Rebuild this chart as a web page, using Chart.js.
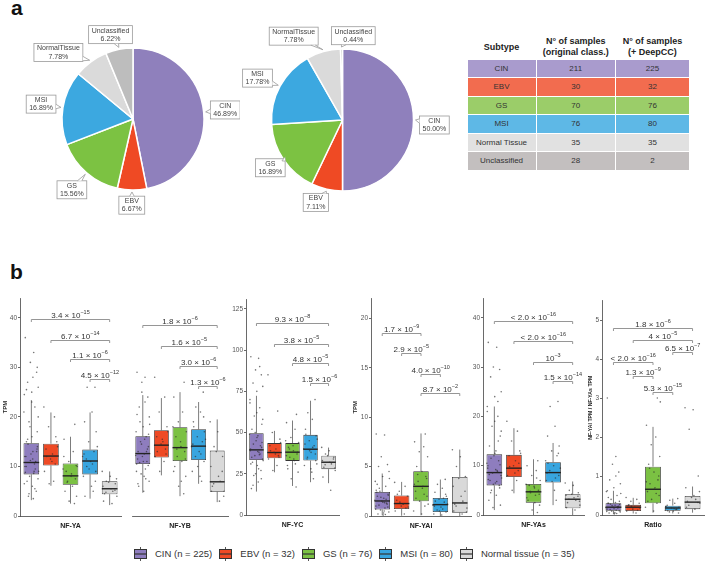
<!DOCTYPE html>
<html>
<head>
<meta charset="utf-8">
<script src="https://cdn.jsdelivr.net/npm/chart.js@4.4.1/dist/chart.umd.min.js"></script>
<style>
  html, body { margin: 0; padding: 0; background: #fff; }
  body { width: 708px; height: 564px; position: relative; overflow: hidden; font-family: "Liberation Sans", Arial, sans-serif; }
  canvas.abs { position: absolute; }
  .tag { position: absolute; font-weight: bold; font-size: 21px; line-height: 21px; color: #111; }
  #tbl { position: absolute; left: 466.5px; top: 34.5px; border-collapse: separate; border-spacing: 1.5px; color: #333; table-layout: fixed; }
  #tbl th { font-size: 9px; font-weight: bold; height: 23px; line-height: 11px; padding: 0; text-align: center; vertical-align: middle; color: #222; }
  #tbl td { font-size: 8px; height: 17.5px; padding: 0; text-align: center; vertical-align: middle; }
  #legend { position: absolute; left: 134px; top: 546.5px; height: 14px; display: flex; align-items: center; font-size: 9.5px; color: #333; white-space: nowrap; }
  .li { display: flex; align-items: center; margin-right: 7px; }
  .li canvas { margin-right: 8px; }
</style>
</head>
<body>
<div class="tag" style="left:11px;top:-3.5px">a</div>
<div class="tag" style="left:10px;top:260.5px">b</div>
<table id="tbl"></table>
<div id="legend"></div>
<script>
const FONT = '"Liberation Sans", Arial, sans-serif';
Chart.defaults.font.family = FONT;

// ---- panel a data ----
const SUBTYPES = ['CIN', 'EBV', 'GS', 'MSI', 'Normal Tissue', 'Unclassified'];
const PIE_LABELS = ['CIN', 'EBV', 'GS', 'MSI', 'NormalTissue', 'Unclassified'];
const N_ORIGINAL = [211, 30, 70, 76, 35, 28];
const N_DEEPCC = [225, 32, 76, 80, 35, 2];

// ---- panel b data ----
const GROUPS = ['CIN', 'EBV', 'GS', 'MSI', 'Normal tissue'];
// [lower whisker, q1, median, q3, upper whisker]
const NFYA_STATS = [[3.2, 8.4, 10.8, 14.7, 23.4], [6.1, 10.2, 12.1, 14.6, 20.9], [2.5, 6.3, 8.1, 10.6, 16.0], [3.5, 8.4, 11.1, 13.4, 20.9], [2.2, 4.4, 5.5, 7.0, 9.0]];
const NFYB_STATS = [[4.7, 10.5, 12.6, 16.1, 24.4], [8.2, 11.8, 14.3, 17.3, 23.8], [4.0, 11.1, 13.8, 17.9, 25.0], [6.5, 11.3, 14.1, 17.5, 23.0], [2.8, 4.9, 6.9, 13.2, 19.5]];
const NFYC_STATS = [[14.2, 33.4, 39.5, 49.6, 72.3], [25.9, 34.4, 37.9, 43.6, 51.0], [17.6, 32.8, 38.1, 43.6, 57.3], [19.9, 33.0, 39.9, 48.6, 69.3], [19.3, 27.8, 32.0, 36.0, 40.9]];
const NFYAL_STATS = [[0.07, 0.65, 1.52, 2.43, 4.3], [0.03, 0.71, 1.26, 2.07, 3.45], [0.07, 1.49, 3.0, 4.53, 8.35], [0, 0.41, 1.15, 1.83, 3.69], [0, 0.34, 1.32, 3.95, 6.72]];
const NFYAS_STATS = [[1.0, 6.0, 8.6, 12.3, 22.0], [4.4, 7.7, 9.5, 12.2, 17.6], [0, 2.5, 4.7, 6.3, 11.3], [2.0, 6.6, 8.6, 10.7, 14.6], [0, 1.35, 3.2, 4.2, 6.8]];
const RATIO_STATS = [[0.02, 0.11, 0.20, 0.30, 0.62], [0.04, 0.10, 0.20, 0.26, 0.44], [0.06, 0.30, 0.66, 1.24, 2.26], [0.04, 0.11, 0.18, 0.24, 0.42], [0.06, 0.15, 0.33, 0.49, 0.73]];

// individual samples (a readable subset)
const NFYA_PTS = [
  [36, 33, 31, 29, 27, 26, 25, 24.5, 22, 19, 17, 15, 13, 12.5, 11, 10, 9, 8, 7.5, 7, 6, 5, 4, 3.5, 12, 14, 18, 9.5, 21, 16,
   14.5, 13.5, 12, 11.5, 10.5, 10, 9, 8.8, 8.6, 11.2, 13, 15.5, 20, 23, 6.5, 5.5, 4.5, 30, 25.5, 28],
  [22, 20, 18, 15, 13.5, 12.5, 11.5, 10.5, 9, 7, 6.5, 14, 12, 11, 16],
  [18.5, 15.5, 13, 11, 10, 9, 8.5, 7.5, 7, 6, 5, 4, 3, 2.5, 9.5, 8, 6.8, 10.2, 12],
  [26, 26, 21, 19, 17, 15, 13, 12, 11, 10, 9, 8, 6, 5, 4, 14, 12.5, 10.5, 9.5, 7, 11.5],
  [9, 8, 7, 6.5, 6, 5.5, 5, 4.5, 4, 3, 2.5, 6.8, 5.2, 4.8, 7.5]];
const NFYB_PTS = [
  [29, 28, 27, 24, 22, 20, 18, 17, 16, 15, 14, 13, 12.5, 12, 11, 10.5, 9.5, 8.5, 7, 6, 5, 13.5, 19, 15.5, 11.5,
   16.5, 14.5, 13, 12.2, 11, 10.8, 10.2, 9, 8, 7.5, 6.5, 18.5, 20.5, 23, 25],
  [28, 24, 21, 18, 16, 15, 14.5, 13.5, 12, 11, 9, 17, 13, 15.5, 12.5],
  [27, 24, 21, 19, 17, 16, 14, 13, 12, 11, 10, 8, 6, 4.5, 18, 15, 13.5, 11.5, 9, 7],
  [25, 22, 21, 19, 17, 16, 15, 14, 13, 12, 11, 9, 8, 7, 18, 15.5, 14.5, 12.5, 10, 20],
  [19, 17, 14, 12, 10, 8, 7, 6, 5, 5, 3, 13, 9, 6.5, 4]];
const NFYC_PTS = [
  [96, 95, 88, 85, 80, 78, 75, 70, 65, 60, 55, 52, 48, 45, 42, 40, 38, 36, 34, 32, 30, 27, 24, 20, 16, 44, 50, 37,
   49, 47, 43, 41, 39, 38.5, 36.5, 35, 33, 31, 28, 25, 22, 18, 58, 62, 68, 90],
  [85, 63, 50, 46, 42, 40, 38, 36, 34, 30, 27, 44, 39, 37, 35],
  [61, 56, 52, 47, 44, 41, 39, 37, 35, 33, 30, 26, 22, 17, 45, 42, 40, 38, 36, 34, 31, 28],
  [70, 62, 58, 52, 48, 45, 42, 40, 38, 35, 33, 30, 26, 22, 49, 46, 43, 41, 39, 37, 34, 31, 28],
  [41, 39, 37, 35, 33, 32, 31, 29, 27, 23, 15, 36, 34, 30.5, 28.5]];
const NFYAL_PTS = [
  [8.3, 8.2, 6, 5.2, 5, 4.5, 4, 3.5, 3, 2.5, 2.2, 2, 1.8, 1.5, 1.3, 1, 0.8, 0.6, 0.4, 0.2, 0.1, 1.2, 2.8, 0.5,
   2.4, 2.1, 1.9, 1.7, 1.6, 1.4, 1.1, 0.9, 0.7, 0.3, 0.15, 3.2, 3.8, 2.6, 1.35],
  [3.4, 3, 2.5, 2, 1.6, 1.2, 1, 0.8, 0.5, 0.2, 1.4, 0.9, 2.2],
  [8.3, 7.5, 7, 6.5, 6, 5, 4.5, 4, 3.5, 3, 2.5, 2, 1.5, 1, 0.5, 0.2, 4.2, 3.8, 3.2, 2.8, 2.2, 1.8, 1.2],
  [3.7, 3.2, 2.8, 2.4, 2, 1.7, 1.4, 1.1, 0.9, 0.6, 0.4, 0.2, 0.1, 1.8, 1.5, 1.2, 1.0, 0.7, 0.5, 2.2],
  [6.7, 6, 5, 4, 3, 2, 1.5, 1.2, 0.8, 0.5, 0.2, 3.8, 2.5, 1.0, 0.4]];
const NFYAS_PTS = [
  [35, 34, 30, 29.5, 28, 25, 24, 22, 20, 18, 16, 14, 13, 12, 11, 10, 9, 8.5, 8, 7, 6.5, 6, 5, 4, 3, 2, 1.5, 15, 10.5,
   12.5, 11.5, 10.2, 9.5, 9.2, 8.8, 8.2, 7.5, 7.2, 6.8, 6.2, 5.5, 4.5, 17, 19, 21, 23],
  [19, 17, 15, 13, 12, 11, 10, 9, 8, 7, 5, 12.5, 9.8, 8.5, 10.5],
  [11, 10, 9, 8, 7, 6, 5.5, 5, 4.5, 4, 3, 2, 1, 0.5, 6.2, 5.8, 4.8, 4.2, 3.5, 2.5, 7.5],
  [23, 22, 18, 16, 14, 13, 12, 11, 10, 9, 8, 7, 5, 3, 10.5, 9.5, 8.5, 7.5, 6.8, 12.5],
  [6.5, 6, 5, 4.5, 4, 3.5, 3, 2.5, 2, 1.5, 1, 4.2, 3.8, 3.2, 2.8]];
const RATIO_PTS = [
  [3.0, 1.5, 1.3, 1.1, 0.9, 0.8, 0.7, 0.6, 0.5, 0.4, 0.35, 0.3, 0.25, 0.2, 0.18, 0.15, 0.12, 0.1, 0.08, 0.05, 0.03, 0.22, 0.28,
   0.32, 0.3, 0.27, 0.24, 0.21, 0.19, 0.16, 0.14, 0.11, 0.09, 0.06, 0.04, 0.45, 0.55, 0.62, 1.0],
  [0.45, 0.4, 0.35, 0.3, 0.25, 0.2, 0.15, 0.12, 0.1, 0.05, 0.22, 0.18, 0.26],
  [3.0, 2.3, 2.0, 1.8, 1.5, 1.3, 1.1, 0.9, 0.8, 0.7, 0.6, 0.5, 0.4, 0.3, 0.2, 0.1, 1.2, 1.0, 0.85, 0.66, 0.55, 0.35, 2.9],
  [0.42, 0.38, 0.3, 0.25, 0.2, 0.18, 0.15, 0.12, 0.1, 0.08, 0.05, 0.22, 0.16, 0.14, 0.11],
  [2.75, 2.7, 2.2, 1.0, 0.7, 0.5, 0.4, 0.35, 0.3, 0.2, 0.15, 0.45, 0.32, 0.25, 0.6]];

// comparisons: [group a, group b, bracket height, p-value]
const NFYA_PV = [[0, 4, 39.8, '3.4 × 10^−15'], [1, 4, 35.6, '6.7 × 10^−14'], [2, 4, 31.6, '1.1 × 10^−6'], [3, 4, 27.7, '4.5 × 10^−12']];
const NFYB_PV = [[0, 4, 38.5, '1.8 × 10^−6'], [1, 4, 34.3, '1.6 × 10^−5'], [2, 4, 30.2, '3.0 × 10^−6'], [3, 4, 26.2, '1.3 × 10^−6']];
const NFYC_PV = [[0, 4, 116.2, '9.3 × 10^−8'], [1, 4, 104, '3.8 × 10^−5'], [2, 4, 92, '4.8 × 10^−5'], [3, 4, 79.8, '1.5 × 10^−6']];
const NFYAL_PV = [[0, 2, 18.5, '1.7 × 10^−9'], [1, 2, 16.45, '2.9 × 10^−5'], [2, 3, 14.35, '4.0 × 10^−10'], [2, 4, 12.4, '8.7 × 10^−2']];
const NFYAS_PV = [[0, 4, 39.3, '< 2.0 × 10^−16'], [1, 4, 35.2, '< 2.0 × 10^−16'], [2, 4, 31.1, '10^−3'], [3, 4, 27.1, '1.5 × 10^−14']];
const RATIO_PV = [[0, 4, 4.8, '1.8 × 10^−6'], [1, 4, 4.49, '4 × 10^−5'], [3, 4, 4.19, '6.5 × 10^−7'], [0, 2, 3.93, '< 2.0 × 10^−16'], [1, 2, 3.56, '1.3 × 10^−9'], [2, 3, 3.15, '5.3 × 10^−15']];

const TPM_TICKS_40 = [0, 10, 20, 30, 40];
const NFYC_TICKS = [0, 25, 50, 75, 100, 125];
const NFYAL_TICKS = [0, 5, 10, 15, 20];
const RATIO_TICKS = [0, 1, 2, 3, 4, 5];

// ---- styles ----
const PIE_COLORS = ['#8f80bc', '#ef4a24', '#7cc242', '#3ca8e0', '#dadada', '#bdbdbd'];
const TABLE_COLORS = ['#a99bcd', '#f26c4f', '#9bcd69', '#5eb8e6', '#e1e1e1', '#c3bfbf'];
const BOX_COLORS = ['#8e7dbe', '#ee4a25', '#7bc143', '#38a5df', '#d9d9d9'];
const JIT = [-0.31, 0.12, -0.05, 0.27, -0.19, 0.35, 0.02, -0.36, 0.18, -0.12, 0.3, -0.25, 0.08, -0.02, 0.22,
             -0.33, 0.14, -0.09, 0.34, -0.22, 0.05, 0.25, -0.15, 0.1, -0.28, 0.31, -0.07, 0.2, -0.38, 0.03,
             -0.17, 0.29, -0.34, 0.07, 0.16, -0.26, 0.37];

// ---- pies ----
const calloutPlugin = {
  id: 'callout',
  afterDatasetsDraw(chart) {
    const ctx = chart.ctx;
    const meta = chart.getDatasetMeta(0);
    const vals = chart.data.datasets[0].data;
    const total = vals.reduce((a, b) => a + b, 0);
    const nudge = chart.$nudge || {};
    ctx.save();
    ctx.font = '7px ' + FONT;
    meta.data.forEach((arc, i) => {
      const p = arc.getProps(['x', 'y', 'startAngle', 'endAngle', 'outerRadius'], true);
      const mid = (p.startAngle + p.endAngle) / 2;
      const dx = Math.cos(mid), dy = Math.sin(mid);
      const l1 = chart.data.labels[i];
      const l2 = (vals[i] / total * 100).toFixed(2) + '%';
      const w = Math.max(ctx.measureText(l1).width, ctx.measureText(l2).width) + 6;
      const h = 18;
      const sup = Math.abs(dx) * w / 2 + Math.abs(dy) * h / 2;
      const nd = nudge[i] || [0, 0];
      const dist = p.outerRadius + 6 + sup;
      const cx = p.x + dx * dist + nd[0], cy = p.y + dy * dist + nd[1];
      const tx = p.x + dx * (p.outerRadius + 2), ty = p.y + dy * (p.outerRadius + 2);
      // box
      ctx.fillStyle = '#fff';
      ctx.strokeStyle = '#9a9a9a';
      ctx.lineWidth = 0.8;
      ctx.fillRect(cx - w / 2, cy - h / 2, w, h);
      ctx.strokeRect(cx - w / 2, cy - h / 2, w, h);
      // tail
      const vx = tx - cx, vy = ty - cy;
      const t = Math.min((w / 2) / Math.max(Math.abs(vx), 1e-6), (h / 2) / Math.max(Math.abs(vy), 1e-6));
      const bx = cx + vx * t, by = cy + vy * t;
      const vertSide = (w / 2) / Math.max(Math.abs(vx), 1e-6) < (h / 2) / Math.max(Math.abs(vy), 1e-6);
      const ox = vertSide ? 0 : 2.2, oy = vertSide ? 2.2 : 0;
      ctx.beginPath();
      ctx.moveTo(bx - ox, by - oy); ctx.lineTo(tx, ty); ctx.lineTo(bx + ox, by + oy);
      ctx.fill();
      ctx.stroke();
      ctx.fillStyle = '#444';
      ctx.textAlign = 'center';
      ctx.textBaseline = 'middle';
      ctx.fillText(l1, cx, cy - 4);
      ctx.fillText(l2, cx, cy + 4.3);
    });
    ctx.restore();
  }
};

function makePie(left, pad, counts, nudge) {
  const cv = document.createElement('canvas');
  cv.className = 'abs';
  cv.width = 240; cv.height = 225;
  cv.style.left = left + 'px'; cv.style.top = '0px';
  document.body.appendChild(cv);
  const ch = new Chart(cv, {
    type: 'pie',
    data: {
      labels: PIE_LABELS,
      datasets: [{ data: counts, backgroundColor: PIE_COLORS, borderColor: '#fff', borderWidth: 1.5, hoverOffset: 0, radius: 71 }]
    },
    options: {
      responsive: false, animation: false, devicePixelRatio: 1, events: [],
      layout: { padding: pad },
      plugins: { legend: { display: false }, tooltip: { enabled: false } }
    },
    plugins: [calloutPlugin]
  });
  ch.$nudge = nudge;
  ch.draw();
}

makePie(0, { left: 62, right: 36, top: 48, bottom: 35 }, N_ORIGINAL, { 4: [-16, 13], 5: [-5, 4] });
makePie(230, { left: 41, right: 56, top: 48.5, bottom: 33.5 }, N_DEEPCC,
  { 0: [0, 5], 1: [-7, -4], 2: [6, -5], 3: [-2, 3], 4: [-24, 5], 5: [12, 2] });

// ---- table ----
(function () {
  let html = '<tr><th style="width:68px">Subtype</th><th style="width:78.5px">N° of samples<br>(original class.)</th><th style="width:73px">N° of samples<br>(+ DeepCC)</th></tr>';
  SUBTYPES.forEach((s, i) => {
    const bg = `background:${TABLE_COLORS[i]}`;
    html += `<tr><td style="${bg}">${s}</td><td style="${bg}">${N_ORIGINAL[i]}</td><td style="${bg}">${N_DEEPCC[i]}</td></tr>`;
  });
  document.getElementById('tbl').innerHTML = html;
})();

// ---- box plots ----
function makePanel(p) {
  const cl = p.l - p.w;
  const ct = Math.floor(p.t) - 8;
  const cw = Math.ceil(p.r - cl + 2);
  const chh = Math.ceil(p.b + 14 - ct);
  const cv = document.createElement('canvas');
  cv.className = 'abs';
  cv.width = cw; cv.height = chh;
  cv.style.left = cl + 'px'; cv.style.top = ct + 'px';
  document.body.appendChild(cv);

  const boxes = p.stats.map((s, i) => ({ x: i, y: [s[1], s[3]] }));
  const pts = [];
  p.points.forEach((arr, g) => arr.forEach((v, k) => pts.push({ x: g + JIT[(k + g * 7) % JIT.length], y: v })));

  const boxPlugin = {
    id: 'box_' + p.name,
    beforeDatasetsDraw(chart) {
      const meta = chart.getDatasetMeta(0), y = chart.scales.y, ctx = chart.ctx;
      ctx.save();
      ctx.strokeStyle = '#5a5a5a'; ctx.lineWidth = 0.8;
      meta.data.forEach((bar, i) => {
        const s = p.stats[i];
        ctx.beginPath();
        ctx.moveTo(bar.x, y.getPixelForValue(s[0])); ctx.lineTo(bar.x, y.getPixelForValue(s[1]));
        ctx.moveTo(bar.x, y.getPixelForValue(s[3])); ctx.lineTo(bar.x, y.getPixelForValue(s[4]));
        ctx.stroke();
      });
      ctx.restore();
    },
    afterDatasetDraw(chart, args) {
      if (args.index !== 0) return;
      const meta = chart.getDatasetMeta(0), y = chart.scales.y, ctx = chart.ctx;
      ctx.save();
      ctx.strokeStyle = '#222'; ctx.lineWidth = 1.4;
      meta.data.forEach((bar, i) => {
        const yy = y.getPixelForValue(p.stats[i][2]);
        ctx.beginPath();
        ctx.moveTo(bar.x - bar.width / 2, yy); ctx.lineTo(bar.x + bar.width / 2, yy);
        ctx.stroke();
      });
      ctx.restore();
    },
    afterDraw(chart) {
      const x = chart.scales.x, y = chart.scales.y, ctx = chart.ctx;
      ctx.save();
      p.pv.forEach(([a, b, v, txt]) => {
        const x1 = x.getPixelForValue(a), x2 = x.getPixelForValue(b);
        const yy = Math.round(y.getPixelForValue(v)) + 0.5;
        ctx.strokeStyle = '#8a8a8a'; ctx.lineWidth = 0.9;
        ctx.beginPath();
        ctx.moveTo(x1, yy + 2.5); ctx.lineTo(x1, yy); ctx.lineTo(x2, yy); ctx.lineTo(x2, yy + 2.5);
        ctx.stroke();
        const parts = txt.split('^');
        ctx.font = '8px ' + FONT;
        const wm = ctx.measureText(parts[0]).width;
        ctx.font = '5.5px ' + FONT;
        const we = parts[1] ? ctx.measureText(parts[1]).width : 0;
        const sx = (x1 + x2) / 2 - (wm + we) / 2;
        ctx.fillStyle = '#333'; ctx.textAlign = 'left'; ctx.textBaseline = 'alphabetic';
        ctx.font = '8px ' + FONT;
        ctx.fillText(parts[0], sx, yy - 2);
        if (parts[1]) { ctx.font = '5.5px ' + FONT; ctx.fillText(parts[1], sx + wm, yy - 5.5); }
      });
      ctx.restore();
    }
  };

  new Chart(cv, {
    type: 'bar',
    data: {
      datasets: [
        { type: 'bar', data: boxes, backgroundColor: BOX_COLORS, borderColor: '#333', borderWidth: 0.8,
          borderSkipped: false, categoryPercentage: 1, barPercentage: 0.8, order: 2 },
        { type: 'scatter', data: pts, pointRadius: 0.8, pointBackgroundColor: 'rgba(45,45,45,0.65)',
          pointBorderWidth: 0, order: 1 }
      ]
    },
    options: {
      responsive: false, animation: false, devicePixelRatio: 1, events: [],
      layout: { padding: { top: p.t - ct, right: cw - (p.r - cl), left: 0, bottom: 0 } },
      scales: {
        x: {
          type: 'linear', min: -0.58, max: 4.58, offset: false,
          ticks: { display: false }, grid: { display: false },
          border: { color: '#444', width: 0.8 },
          title: { display: true, text: p.name, font: { size: 7, weight: 'bold' }, color: '#222', padding: 0 },
          afterFit: s => { s.height = 14; }
        },
        y: {
          display: p.showY, min: 0, max: p.ymax,
          afterBuildTicks: s => { s.ticks = p.ticks.map(v => ({ value: v })); },
          ticks: { font: { size: 6.5 }, color: '#555', padding: 1 },
          grid: { drawOnChartArea: false, tickLength: 2, color: '#444', lineWidth: 0.8 },
          border: { color: '#444', width: 0.8 },
          title: { display: !!p.ytitle, text: p.ytitle || '', font: { size: p.ytsize || 6, weight: 'bold' }, color: '#222',
                   padding: { top: p.ytpad || 0, bottom: 0 } },
          afterFit: s => { s.width = p.w; }
        }
      },
      plugins: { legend: { display: false }, tooltip: { enabled: false } }
    },
    plugins: [boxPlugin]
  });
}

makePanel({ name: 'NF-YA', l: 20, r: 123, t: 298, b: 516, ymax: 44, w: 20, showY: true, ytitle: 'TPM', ytsize: 6, ytpad: 1.7,
  ticks: TPM_TICKS_40, stats: NFYA_STATS, points: NFYA_PTS, pv: NFYA_PV });
makePanel({ name: 'NF-YB', l: 128, r: 230, t: 298, b: 516, ymax: 44, w: 0, showY: false,
  ticks: TPM_TICKS_40, stats: NFYB_STATS, points: NFYB_PTS, pv: NFYB_PV });
makePanel({ name: 'NF-YC', l: 246, r: 341, t: 299, b: 515, ymax: 131, w: 16, showY: true,
  ticks: NFYC_TICKS, stats: NFYC_STATS, points: NFYC_PTS, pv: NFYC_PV });
makePanel({ name: 'NF-YAl', l: 371, r: 473, t: 298.5, b: 516, ymax: 22, w: 20, showY: true, ytitle: 'TPM', ytsize: 6, ytpad: 0.4,
  ticks: NFYAL_TICKS, stats: NFYAL_STATS, points: NFYAL_PTS, pv: NFYAL_PV });
makePanel({ name: 'NF-YAs', l: 483, r: 586, t: 298, b: 515, ymax: 44, w: 14, showY: true,
  ticks: TPM_TICKS_40, stats: NFYAS_STATS, points: NFYAS_PTS, pv: NFYAS_PV });
makePanel({ name: 'Ratio', l: 602, r: 706, t: 300.5, b: 515, ymax: 5.5, w: 18, showY: true,
  ytitle: 'NF-YAl TPM / NF-YAs TPM', ytsize: 5.2, ytpad: 3.4,
  ticks: RATIO_TICKS, stats: RATIO_STATS, points: RATIO_PTS, pv: RATIO_PV });

// ---- legend ----
(function () {
  const lg = document.getElementById('legend');
  GROUPS.forEach((g, i) => {
    const item = document.createElement('span');
    item.className = 'li';
    const ic = document.createElement('canvas');
    ic.width = 13; ic.height = 14;
    const c = ic.getContext('2d');
    c.strokeStyle = '#555'; c.lineWidth = 1;
    c.beginPath(); c.moveTo(6.5, 0); c.lineTo(6.5, 14); c.stroke();
    c.fillStyle = BOX_COLORS[i]; c.fillRect(0.5, 2.5, 12, 9);
    c.strokeStyle = '#333'; c.strokeRect(0.5, 2.5, 12, 9);
    c.beginPath(); c.moveTo(0.5, 7); c.lineTo(12.5, 7); c.lineWidth = 1.2; c.stroke();
    const tx = document.createElement('span');
    tx.textContent = `${g} (n = ${N_DEEPCC[i]})`;
    item.appendChild(ic); item.appendChild(tx);
    lg.appendChild(item);
  });
})();
</script>
</body>
</html>
